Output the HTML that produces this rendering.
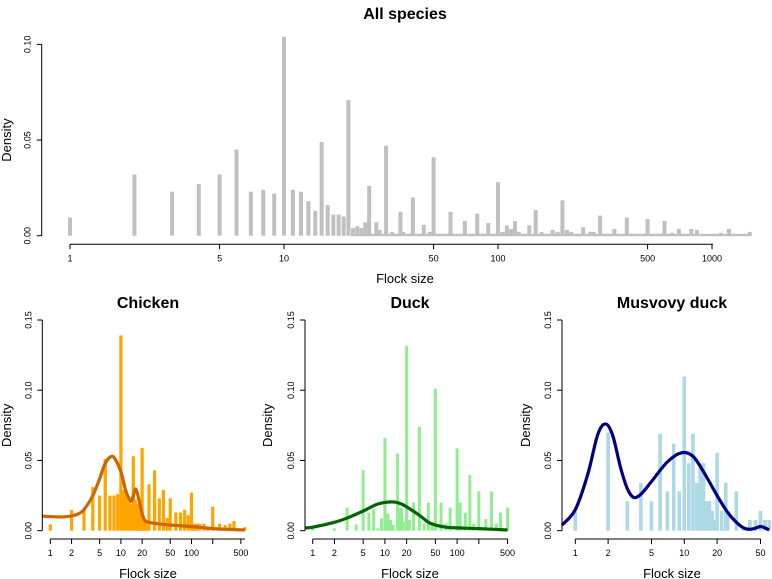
<!DOCTYPE html>
<html><head><meta charset="utf-8"><style>
html,body{margin:0;padding:0;background:#fff;}
svg{display:block;font-family:"Liberation Sans",Arial,sans-serif;}
</style></head><body>
<svg id="c" width="772" height="579" viewBox="0 0 772 579"></svg>
<script>
// ---- data ----
const allSizes = [1,2,3,4,5,6,7,8,9,10,11,12,13,14,15,16,17,18,19,20,21,22,23,24,25,26,27,28,29,30,32,34,35,36,38,40,42,45,48,50,55,60,65,70,75,80,85,90,95,100,105,110,115,120,125,130,140,150,160,170,180,190,200,210,220,230,250,270,280,300,320,350,370,400,450,480,500,550,580,600,650,700,800,850,1100,1200,1500];
const allDensity = [0.0095,0.032,0.023,0.027,0.032,0.045,0.023,0.024,0.022,0.104,0.024,0.023,0.018,0.013,0.049,0.016,0.011,0.011,0.010,0.071,0.004,0.005,0.004,0.007,0.026,0.001,0.007,0.003,0.001,0.047,0.002,0.001,0.0125,0.002,0.001,0.020,0.001,0.0056,0.002,0.041,0.001,0.0125,0.001,0.0077,0.001,0.0115,0.001,0.0066,0.001,0.028,0.002,0.0054,0.0035,0.0077,0.002,0.001,0.0054,0.0134,0.002,0.001,0.003,0.002,0.0185,0.003,0.002,0.001,0.0045,0.002,0.002,0.0105,0.001,0.0035,0.001,0.0095,0.001,0.001,0.0087,0.001,0.001,0.0077,0.0015,0.0035,0.0035,0.003,0.0015,0.0035,0.002];
const allFloorDensity = 0.001;

const chickSizes = [1,2,3,4,5,6,7,8,9,10,11,12,13,14,15,16,17,18,19,20,21,22,23,24,25,30,35,40,45,50,60,70,80,90,100,110,120,130,150,170,200,250,300,350,400,570];
const chickDensity = [0.0045,0.0147,0.0154,0.031,0.025,0.051,0.025,0.025,0.026,0.139,0.029,0.028,0.024,0.019,0.053,0.022,0.019,0.017,0.015,0.059,0.008,0.008,0.007,0.008,0.033,0.043,0.023,0.029,0.009,0.023,0.013,0.013,0.015,0.011,0.027,0.005,0.005,0.005,0.005,0.003,0.017,0.005,0.004,0.005,0.007,0.0025];
const chickCurveX = [0.77,1,1.5,2,2.5,3,4,5,6,7.4,8.5,10,11,12,13.9,15,16.3,18,20,22,25,30,50,100,200,570];
const chickCurveY = [0.0104,0.010,0.0098,0.0105,0.012,0.015,0.025,0.037,0.048,0.053,0.050,0.042,0.034,0.027,0.021,0.025,0.0297,0.022,0.012,0.007,0.006,0.0052,0.004,0.003,0.0015,0.0005];

const duckSizes = [1,2,3,4,5,6,7,8,9,10,11,12,13,15,16,17,18,20,22,25,30,35,40,45,50,60,70,80,100,110,130,150,170,200,250,300,350,400,500];
const duckDensity = [0.0017,0.0017,0.0164,0.0045,0.043,0.0128,0.0154,0.0017,0.0088,0.066,0.0123,0.0076,0.004,0.055,0.0164,0.016,0.0064,0.1317,0.0076,0.020,0.074,0.005,0.020,0.005,0.101,0.020,0.005,0.0164,0.0586,0.020,0.0128,0.0396,0.005,0.028,0.0083,0.028,0.005,0.0128,0.0164];
const duckCurveX = [0.78,1,2,3,5,8,12.4,16,20,30,40,50,70,100,200,500];
const duckCurveY = [0.002,0.0025,0.006,0.009,0.014,0.019,0.0205,0.0195,0.017,0.011,0.006,0.004,0.0025,0.002,0.0015,0.0005];

const muscSizes = [1,2,3,4,5,6,7,8,9,10,11,12,13,14,15,16,17,18,19,20,22,24,25,30,35,40,45,50,55,60];
const muscDensity = [0.0142,0.07,0.021,0.034,0.021,0.069,0.028,0.062,0.028,0.1097,0.048,0.069,0.034,0.048,0.048,0.021,0.021,0.0142,0.0076,0.0555,0.0142,0.034,0.0142,0.028,0.002,0.0076,0.0076,0.0142,0.0076,0.0076];
const muscCurveX = [0.755,1,1.3,1.6,1.886,2.2,2.6,3.0,3.43,4,5,7,9.5,12,15,20,25,30,35,40,45,50,55,60];
const muscCurveY = [0.004,0.015,0.04,0.068,0.076,0.068,0.045,0.03,0.0237,0.026,0.035,0.049,0.0555,0.053,0.042,0.025,0.013,0.006,0.002,0.001,0.0018,0.003,0.002,0.0005];

const topTicks = [1,5,10,50,100,500,1000];
const bottomTicks = [1,2,5,10,20,50,100,200,500];
const muscTicks = [1,2,5,10,20,50];

// ---- drawing ----
const NS="http://www.w3.org/2000/svg";
const svg=document.getElementById('c');
function mk(tag,attrs,parent){const e=document.createElementNS(NS,tag);for(const k in attrs)e.setAttribute(k,attrs[k]);(parent||svg).appendChild(e);return e;}

function panel(p){
  const g=mk('g',{});
  
  
  const sx=v=>p.x0+Math.log10(v)*p.dec;
  const sy=v=>p.y0-v*p.ys;
  if(p.floor){
    const big=p.sizes.filter(s=>s>20);
    const fr=mk('rect',{x:sx(big[0])-2,y:sy(p.floor),width:sx(big[big.length-1])-sx(big[0])+4,height:p.floor*p.ys+0.5,fill:p.col},g);
    
    
  }
  p.sizes.forEach((s,i)=>{
    const r=mk('rect',{x:sx(s)-p.bw/2,y:sy(p.dens[i]),width:p.bw,height:Math.max(0.5,p.dens[i]*p.ys),fill:p.col},g);
    
    
  });
  if(p.cx){
    const pts=p.cx.map((x,i)=>[sx(x),sy(p.cy[i])]);
    let d='M'+pts[0][0]+','+pts[0][1];
    for(let i=0;i<pts.length-1;i++){
      const p0=pts[Math.max(0,i-1)],p1=pts[i],p2=pts[i+1],p3=pts[Math.min(pts.length-1,i+2)];
      const c1=[p1[0]+(p2[0]-p0[0])/6,p1[1]+(p2[1]-p0[1])/6];
      const c2=[p2[0]-(p3[0]-p1[0])/6,p2[1]-(p3[1]-p1[1])/6];
      d+=' C'+c1[0]+','+c1[1]+' '+c2[0]+','+c2[1]+' '+p2[0]+','+p2[1];
    }
    const path=mk('path',{d:d,fill:'none',stroke:p.lc,'stroke-width':3.2,'stroke-linejoin':'round'},g);
    
    
  }
  const ya=mk('g',{},g);
  
  
  const ymax=p.yt[p.yt.length-1];
  mk('line',{x1:p.ax,x2:p.ax,y1:sy(0),y2:sy(ymax),stroke:'#000','stroke-width':1},ya);
  p.yt.forEach(t=>{
    mk('line',{x1:p.ax-5,x2:p.ax,y1:sy(t),y2:sy(t),stroke:'#000'},ya);
    const tx=mk('text',{x:0,y:0,transform:`translate(${p.ax-11},${sy(t)}) rotate(-90)`,'text-anchor':'middle','font-size':9},ya);
    tx.textContent=t.toFixed(2);
  });
  const yl=mk('text',{transform:`translate(${p.dlx},${(sy(0)+sy(ymax))/2}) rotate(-90)`,'text-anchor':'middle','font-size':13},g);
  yl.textContent='Density';
  
  
  const xa=mk('g',{},g);
  
  
  mk('line',{x1:sx(p.xt[0]),x2:p.xend,y1:p.axy,y2:p.axy,stroke:'#000'},xa);
  p.xt.forEach(t=>{
    const x=sx(t);
    mk('line',{x1:x,x2:x,y1:p.axy,y2:p.axy+5,stroke:'#000'},xa);
    if(p.skip.indexOf(t)<0){const tx=mk('text',{x:x,y:p.axy+17,'text-anchor':'middle','font-size':9},xa);tx.textContent=t;}
  });
  const xl=mk('text',{x:p.xlc,y:p.xly,'text-anchor':'middle','font-size':13},g);
  xl.textContent='Flock size';
  
  
  const ti=mk('text',{x:p.tx,y:p.ty,'text-anchor':'middle','font-size':16,'font-weight':'bold'},g);
  ti.textContent=p.title;
  
  
}

panel({name:'all-species-panel',title:'All species',tx:405,ty:19,x0:70,dec:214,y0:235.7,ys:1913,bw:4,col:'#c0c0c0',floor:allFloorDensity,
  sizes:allSizes,dens:allDensity,ax:41.7,yt:[0,0.05,0.10],dlx:11,axy:244.3,xt:topTicks,skip:[],xend:713,xlc:405,xly:283});
panel({name:'chicken-panel',title:'Chicken',tx:148,ty:308,x0:50.3,dec:70.6,y0:530.7,ys:1404.7,bw:3.2,col:'#ffa500',
  sizes:chickSizes,dens:chickDensity,cx:chickCurveX,cy:chickCurveY,lc:'#cd6600',ax:42.3,yt:[0,0.05,0.10,0.15],dlx:11,
  axy:539,xt:bottomTicks,skip:[200],xend:245,xlc:148,xly:578});
panel({name:'duck-panel',title:'Duck',tx:410,ty:308,x0:312.7,dec:72.2,y0:530.7,ys:1404.7,bw:3,col:'#90ee90',
  sizes:duckSizes,dens:duckDensity,cx:duckCurveX,cy:duckCurveY,lc:'#006400',ax:305,yt:[0,0.05,0.10,0.15],dlx:272,
  axy:539,xt:bottomTicks,skip:[200],xend:507.6,xlc:410,xly:578});
panel({name:'muscovy-duck-panel',title:'Musvovy duck',tx:672,ty:308,x0:575.3,dec:109,y0:530.7,ys:1404.7,bw:3.6,col:'#add8e6',
  sizes:muscSizes,dens:muscDensity,cx:muscCurveX,cy:muscCurveY,lc:'#000080',ax:562,yt:[0,0.05,0.10,0.15],dlx:530,
  axy:539,xt:muscTicks,skip:[],xend:760.5,xlc:672,xly:578});
</script>
</body></html>
